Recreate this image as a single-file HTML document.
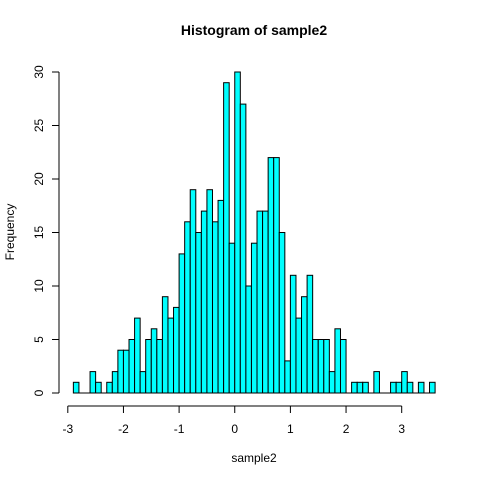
<!DOCTYPE html>
<html><head><meta charset="utf-8"><style>
html,body{margin:0;padding:0;background:#fff;}
svg{display:block;font-family:"Liberation Sans",sans-serif;}
</style></head><body>
<svg id="chart" width="480" height="480" viewBox="0 0 480 480" xmlns="http://www.w3.org/2000/svg">
<rect x="0" y="0" width="480" height="480" fill="#fff"/>
<text x="254" y="35" font-size="14" font-weight="bold" text-anchor="middle">Histogram of sample2</text>
<text x="254" y="462" font-size="12" text-anchor="middle">sample2</text>
<text x="0" y="0" font-size="12" text-anchor="middle" transform="translate(14,232) rotate(-90)">Frequency</text>
<g id="bars"></g>
<g id="xaxis"></g>
<g id="yaxis"></g>
</svg>
<script>
const binStart = -2.9;
const binWidth = 0.1;
const counts = [1,0,0,2,1,0,1,2,4,4,5,7,2,5,6,5,9,7,8,13,16,19,15,17,19,16,18,29,14,30,27,10,14,17,17,22,22,15,3,11,7,9,11,5,5,5,2,6,5,0,1,1,1,0,2,0,0,1,1,2,1,0,1,0,1];
const xTicks = [-3,-2,-1,0,1,2,3];
const xTickLabels = ["-3","-2","-1","0","1","2","3"];
const yTicks = [0,5,10,15,20,25,30];
const yTickLabels = ["0","5","10","15","20","25","30"];

const NS = "http://www.w3.org/2000/svg";
function xs(v){ return 67.8 + (v + 3) * 55.65; }
function ys(v){ return 393 - v * 10.7; }
function mk(tag, attrs, parent){
  const e = document.createElementNS(NS, tag);
  for (const k in attrs) e.setAttribute(k, attrs[k]);
  parent.appendChild(e);
  return e;
}
const bars = document.getElementById('bars');
counts.forEach((c, i) => {
  const x0 = xs(binStart + i * binWidth), x1 = xs(binStart + (i + 1) * binWidth);
  if (c === 0) {
    const l = mk('line', {x1: x0, x2: x1, y1: ys(0), y2: ys(0), stroke: '#000', 'stroke-width': 1}, bars);
    
    
    return;
  }
  const r = mk('rect', {x: x0, y: ys(c), width: x1 - x0, height: ys(0) - ys(c), fill: '#00ffff', stroke: '#000', 'stroke-width': 1}, bars);
  
  
});
const xa = document.getElementById('xaxis');
const xl = mk('line', {x1: xs(xTicks[0]), x2: xs(xTicks[xTicks.length-1]), y1: 406, y2: 406, stroke: '#000'}, xa);


xTicks.forEach((t, i) => {
  const tk = mk('line', {x1: xs(t), x2: xs(t), y1: 406, y2: 413, stroke: '#000'}, xa);
  
  
  const tx = mk('text', {x: xs(t), y: 433, 'font-size': 12, 'text-anchor': 'middle'}, xa);
  tx.textContent = xTickLabels[i];
  
  
});
const ya = document.getElementById('yaxis');
const yl = mk('line', {x1: 59, x2: 59, y1: ys(yTicks[0]), y2: ys(yTicks[yTicks.length-1]), stroke: '#000'}, ya);


yTicks.forEach((t, i) => {
  const tk = mk('line', {x1: 52, x2: 59, y1: ys(t), y2: ys(t), stroke: '#000'}, ya);
  
  
  const tx = mk('text', {x: 0, y: 0, 'font-size': 12, 'text-anchor': 'middle', transform: 'translate(43,' + ys(t) + ') rotate(-90)'}, ya);
  tx.textContent = yTickLabels[i];
  
  
});
</script>
</body></html>
